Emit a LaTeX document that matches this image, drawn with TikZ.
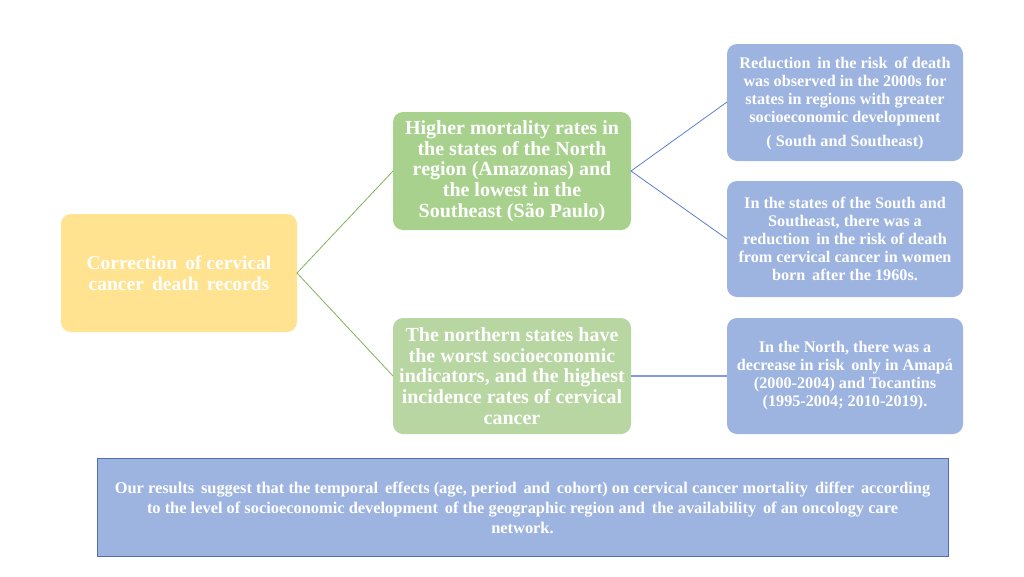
\documentclass[tikz,border=0pt]{standalone}
\usepackage{fontspec}
\setmainfont{Liberation Serif}
\definecolor{yel}{HTML}{FFE390}
\definecolor{gr1}{HTML}{A9D18E}
\definecolor{gr2}{HTML}{B7D6A1}
\definecolor{bl}{HTML}{9DB3E0}
\definecolor{bld}{HTML}{4F6FB0}
\definecolor{grl}{HTML}{7EB55A}
\definecolor{bll}{HTML}{5B7FD0}
\begin{document}
\begin{tikzpicture}[x=1pt,y=-1pt,
  box/.style={rounded corners=10pt,text=white,font=\bfseries,align=center},
  glink/.style={draw=grl,line width=0.8pt},
  blink/.style={draw=bll,line width=0.8pt}]
\useasboundingbox (0,0) rectangle (1024,576);
\fill[white] (0,0) rectangle (1024,576);
% boxes
\fill[yel,rounded corners=10pt] (61,214) rectangle (297,332);
\node[box,font=\bfseries\fontsize{19.5}{21}\selectfont] (y) at (179,273) {Correction\, of cervical\\cancer\, death\, records};
\fill[gr1,rounded corners=10pt] (393,112) rectangle (631,230);
\node[box,font=\bfseries\fontsize{20}{20.8}\selectfont] (g1) at (512,171) {Higher mortality rates in\\the states of the North\\region (Amazonas) and\\the lowest in the\\Southeast (São Paulo)};
\fill[gr2,rounded corners=10pt] (393,318) rectangle (631,434);
\node[box,font=\bfseries\fontsize{20}{20.8}\selectfont] (g2) at (512,376) {The northern states have\\the worst socioeconomic\\indicators, and the highest\\incidence rates of cervical\\cancer};
\fill[bl,rounded corners=10pt] (727,44) rectangle (963,161);
\node[box,font=\bfseries\fontsize{16.2}{18}\selectfont] (b1) at (845,104) {Reduction\, in the risk\, of death\\was observed in the 2000s for\\states in regions with greater\\socioeconomic development\\[6pt]( South and Southeast)};
\fill[bl,rounded corners=10pt] (727,181) rectangle (963,297);
\node[box,font=\bfseries\fontsize{16.2}{18}\selectfont] (b2) at (845,239) {In the states of the South and\\Southeast, there was a\\reduction\, in the risk of death\\from cervical cancer in women\\born\, after the 1960s.};
\fill[bl,rounded corners=10pt] (727,318) rectangle (963,434);
\node[box,font=\bfseries\fontsize{16.2}{18}\selectfont] (b3) at (845,376) {In the North, there was a\\decrease in risk\, only in Amapá\\(2000-2004) and Tocantins\\(1995-2004; 2010-2019).};
\draw[fill=bl,draw=bld,line width=0.6pt] (97,458) rectangle (948,556);
\node[box,font=\bfseries\fontsize{16.4}{20}\selectfont] (r) at (522.5,508) {Our results\, suggest that the temporal\, effects (age, period\, and\, cohort) on cervical cancer mortality\, differ\, according\\to the level of socioeconomic development\, of the geographic region and\, the availability\, of an oncology care\\network.};
% anchor coordinates
\coordinate (yR) at (297,273);
\coordinate (g1L) at (393,171);
\coordinate (g2L) at (393,376);
\coordinate (g1R) at (631,171);
\coordinate (g2R) at (631,376);
\coordinate (b1L) at (727,102);
\coordinate (b2L) at (727,239);
\coordinate (b3L) at (727,376);
\draw[glink] (g1L) -- (yR) -- (g2L);
\draw[blink] (b1L) -- (g1R) -- (b2L);
\draw[draw=bl!85!blue,line width=1.4pt] (g2R) -- (b3L);
\end{tikzpicture}
\end{document}
